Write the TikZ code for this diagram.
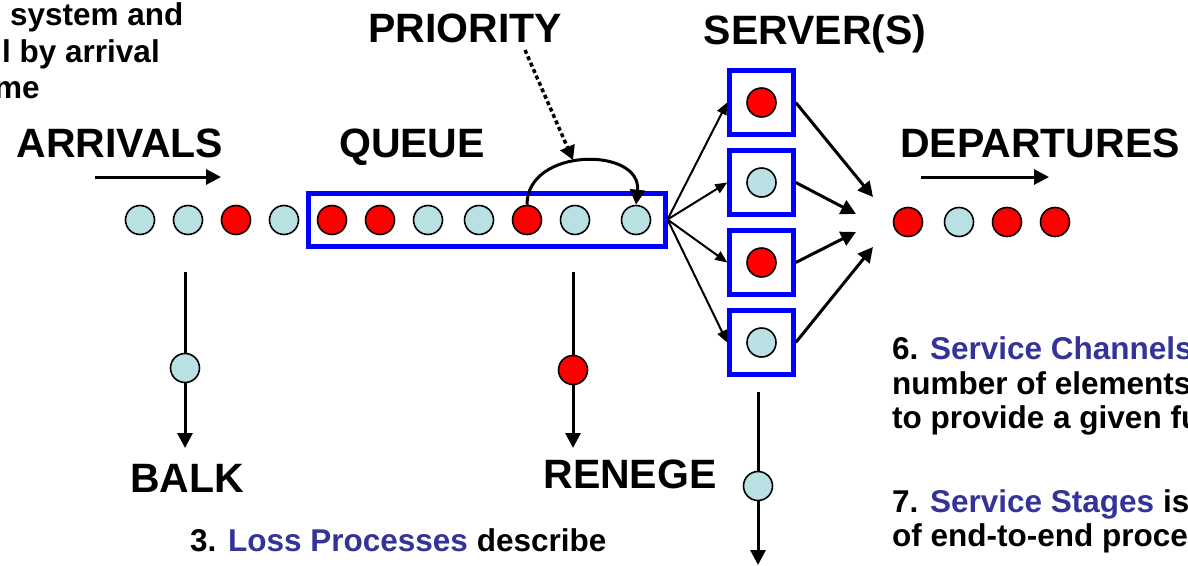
\documentclass[tikz,border=0pt]{standalone}
\usepackage{fontspec}
\setmainfont{Liberation Sans}
\usetikzlibrary{arrows.meta}
\definecolor{custcyan}{RGB}{185,224,226}
\definecolor{custred}{RGB}{255,0,0}
\definecolor{titleblue}{RGB}{51,51,153}

\begin{document}
\begin{tikzpicture}[x=1pt,y=-1pt,
  cust/.style={circle,draw,line width=1.6pt,minimum size=29pt,inner sep=0pt},
  head/.style={font=\fontsize{41}{49}\selectfont\bfseries,anchor=base,inner sep=0pt},
  body/.style={font=\fontsize{31.5}{34}\selectfont\bfseries,anchor=base west,inner sep=0pt},
  flow/.style={line width=3pt,-{Triangle[length=15pt,width=15pt]}},
  fan/.style={line width=2pt,-{Triangle[length=12pt,width=10pt]}}]
\useasboundingbox (0,0) rectangle (1188,565);
\clip (0,0) rectangle (1188,565);

% titles
\node[head] (arrtitle) at (120,157) {ARRIVALS};
\node[head] (quetitle) at (412,157) {QUEUE};
\node[head] (priotitle) at (465,42) {PRIORITY};
\node[head] (servtitle) at (815,44) {SERVER(S)};
\node[head] (deptitle) at (1040,157) {DEPARTURES};
\node[head] (balktitle) at (187,492) {BALK};
\node[head] (renegetitle) at (630,488) {RENEGE};

% arrivals
\coordinate (arrtail) at (95,177);
\coordinate (arrtip) at (221,177);
\draw[flow] (arrtail) -- (arrtip);
\node[cust,fill=custcyan] (a1) at (140,220) {};
\node[cust,fill=custcyan] (a2) at (188,220) {};
\node[cust,fill=custred] (a3) at (236,220) {};
\node[cust,fill=custcyan] (a4) at (284,220) {};

% queue
\node[draw=blue,line width=5pt,minimum width=357pt,minimum height=53pt,inner sep=0pt] (queue) at (486.5,219.5) {};
\node[cust,fill=custred] (q1) at (332,220) {};
\node[cust,fill=custred] (q2) at (380,220) {};
\node[cust,fill=custcyan] (q3) at (428,220) {};
\node[cust,fill=custcyan] (q4) at (479,220) {};
\node[cust,fill=custred] (q5) at (527,220) {};
\node[cust,fill=custcyan] (q6) at (575,220) {};
\node[cust,fill=custcyan] (q7) at (636,220) {};

% priority jump
\draw[flow] (q5.north) .. controls +(0,-58) and +(6,-58) .. (q7.north);
\coordinate (priotail) at (525,50);
\coordinate (priotip) at (573,160);
\draw[line width=3.5pt,dash pattern=on 4pt off 3pt,-{Triangle[length=14pt,width=15pt]}] (priotail) -- (priotip);

% servers
\node[draw=blue,line width=4.5pt,minimum size=64pt,inner sep=0pt] (s1) at (761.5,102.5) {};
\node[draw=blue,line width=4.5pt,minimum size=64pt,inner sep=0pt] (s2) at (761.5,182.5) {};
\node[draw=blue,line width=4.5pt,minimum size=64pt,inner sep=0pt] (s3) at (761.5,262.5) {};
\node[draw=blue,line width=4.5pt,minimum size=64pt,inner sep=0pt] (s4) at (761.5,342.5) {};
\node[cust,fill=custred] (c1) at (s1) {};
\node[cust,fill=custcyan] (c2) at (s2) {};
\node[cust,fill=custred] (c3) at (s3) {};
\node[cust,fill=custcyan] (c4) at (s4) {};
\draw[fan] (queue.east) -- (s1.west);
\draw[fan] (queue.east) -- (s2.west);
\draw[fan] (queue.east) -- (s3.west);
\draw[fan] (queue.east) -- (s4.west);

% merging into departures
\coordinate (m1) at (873,197);
\coordinate (m2) at (856,214);
\coordinate (m3) at (856,232);
\coordinate (m4) at (873,247);
\draw[flow] (s1.east) -- (m1);
\draw[flow] (s2.east) -- (m2);
\draw[flow] (s3.east) -- (m3);
\draw[flow] (s4.east) -- (m4);

% departures
\coordinate (deptail) at (921,177);
\coordinate (deptip) at (1049,177);
\draw[flow] (deptail) -- (deptip);
\node[cust,fill=custred] (d1) at (908,222) {};
\node[cust,fill=custcyan] (d2) at (959,222) {};
\node[cust,fill=custred] (d3) at (1007,222) {};
\node[cust,fill=custred] (d4) at (1055,222) {};

% losses
\coordinate (balktop) at (185,272);
\coordinate (balkend) at (185,448);
\draw[flow] (balktop) -- (balkend);
\node[cust,fill=custcyan] (b1) at (185,368) {};
\coordinate (renegetop) at (573,272);
\coordinate (renegeend) at (573,448);
\draw[flow] (renegetop) -- (renegeend);
\node[cust,fill=custred] (r1) at (573,370) {};
\coordinate (stagetop) at (758,392);
\coordinate (stageend) at (758,565);
\draw[flow] (stagetop) -- (stageend);
\node[cust,fill=custcyan] (t1) at (758,486) {};

% notes
\node[body] (noteA) at (10,25) {system and};
\node[body] (noteB) at (2,62) {l by arrival};
\node[body] (noteC) at (-6,98) {me};
\node[body] (noteloss) at (190,551) {3. \textcolor{titleblue}{Loss Processes} describe};
\node[body] (notechan) at (892,359) {6. \textcolor{titleblue}{Service Channels}};
\node[body] (notechanb) at (892,394) {number of elements};
\node[body] (notechanc) at (892,428) {to provide a given fu};
\node[body] (notestage) at (892,512) {7. \textcolor{titleblue}{Service Stages} is};
\node[body] (notestageb) at (892,546) {of end-to-end proce};
\end{tikzpicture}
\end{document}
